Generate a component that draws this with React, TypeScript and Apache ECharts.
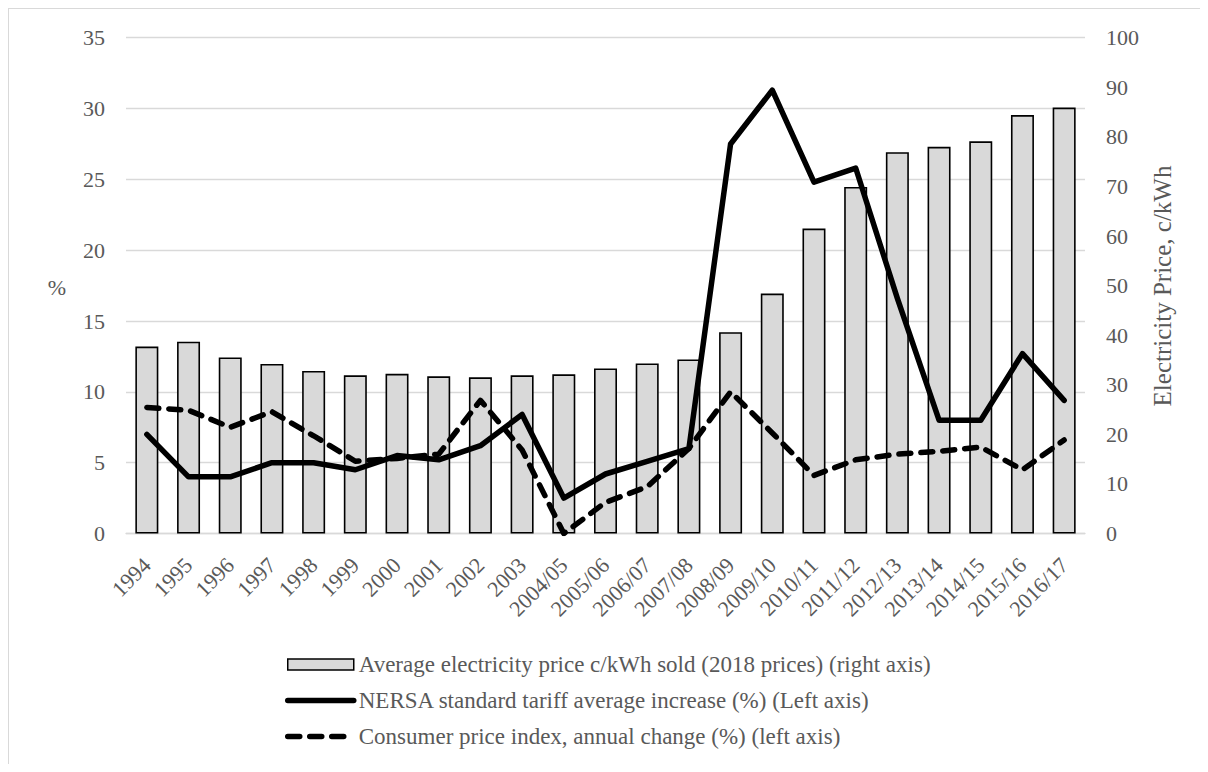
import React, { useEffect, useRef } from 'react';
import * as echarts from 'echarts';

const categories = [
  '1994', '1995', '1996', '1997', '1998', '1999', '2000', '2001', '2002', '2003',
  '2004/05', '2005/06', '2006/07', '2007/08', '2008/09', '2009/10', '2010/11',
  '2011/12', '2012/13', '2013/14', '2014/15', '2015/16', '2016/17',
];

// Average electricity price c/kWh sold (2018 prices) - right axis
const avgPrice = [
  37.7, 38.7, 35.5, 34.2, 32.8, 31.9, 32.2, 31.7, 31.5, 31.9,
  32.1, 33.3, 34.3, 35.1, 40.6, 48.4, 61.5, 69.9, 76.9, 78.0, 79.1, 84.4, 85.9,
];

// NERSA standard tariff average increase (%) - left axis
const nersaIncrease = [
  7.0, 4.0, 4.0, 5.0, 5.0, 4.5, 5.5, 5.2, 6.2, 8.4,
  2.5, 4.2, 5.1, 6.0, 27.5, 31.3, 24.8, 25.8, 16.6, 8.0, 8.0, 12.7, 9.4,
];

// Consumer price index, annual change (%) - left axis
const cpiChange = [
  8.9, 8.7, 7.5, 8.6, 6.9, 5.1, 5.3, 5.6, 9.4, 5.9,
  0.0, 2.2, 3.3, 6.0, 10.0, 7.1, 4.1, 5.2, 5.6, 5.8, 6.1, 4.5, 6.6,
];

const leftAxis = { min: 0, max: 35, interval: 5 };
const rightAxis = { min: 0, max: 100, interval: 10 };

const barName = 'Average electricity price c/kWh sold (2018 prices) (right axis)';
const nersaName = 'NERSA standard tariff average increase (%) (Left axis)';
const cpiName = 'Consumer price index, annual change (%) (left axis)';
const leftTitle = '%';
const rightTitle = 'Electricity Price, c/kWh';

export default function App() {
  const ref = useRef<HTMLDivElement>(null);

  useEffect(() => {
    if (!ref.current) return;
    const chart = echarts.init(ref.current, null, { renderer: 'svg' });
    const font = '"Liberation Serif", "Times New Roman", serif';
    const grey = '#595959';
    const gridGrey = '#d9d9d9';
    const lineW = 5.5;
    const dash = [12, 10];
    const hiddenSymbol = { color: 'rgba(0,0,0,0)', borderWidth: 0, opacity: 0 };

    chart.setOption({
      animation: false,
      backgroundColor: '#ffffff',
      textStyle: { fontFamily: font },
      grid: { left: 117, right: 123, top: 28.7, bottom: 230.5, containLabel: false },
      xAxis: {
        type: 'category',
        data: categories,
        axisLine: { lineStyle: { color: gridGrey, width: 1.3 } },
        axisTick: { show: false },
        axisLabel: {
          rotate: 45,
          interval: 0,
          margin: 28,
          fontSize: 22,
          color: grey,
          fontFamily: font,
        },
      },
      yAxis: [
        {
          type: 'value',
          position: 'left',
          ...leftAxis,
          axisLine: { show: false },
          axisTick: { show: false },
          splitLine: { lineStyle: { color: gridGrey, width: 1.3 } },
          axisLabel: { margin: 21, fontSize: 22, color: grey, fontFamily: font },
        },
        {
          type: 'value',
          position: 'right',
          ...rightAxis,
          axisLine: { show: false },
          axisTick: { show: false },
          splitLine: { show: false },
          axisLabel: { margin: 21, fontSize: 22, color: grey, fontFamily: font },
        },
      ],
      legend: {
        orient: 'vertical',
        left: 271,
        top: 639,
        itemWidth: 66,
        itemHeight: 11,
        itemGap: 13,
        textStyle: { fontSize: 23, color: grey, fontFamily: font },
        data: [
          {
            name: barName,
            icon: 'rect',
            itemStyle: { color: '#d9d9d9', borderColor: '#000000', borderWidth: 1.5 },
          },
          {
            name: nersaName,
            itemStyle: hiddenSymbol,
            lineStyle: { color: '#000000', width: lineW, cap: 'round' },
          },
          {
            name: cpiName,
            itemStyle: hiddenSymbol,
            lineStyle: { color: '#000000', width: lineW, type: dash, cap: 'round' },
          },
        ],
      },
      graphic: [
        {
          type: 'text',
          x: 48,
          y: 278,
          style: {
            text: leftTitle,
            fontSize: 22,
            fontFamily: font,
            fill: grey,
            textAlign: 'center',
            textVerticalAlign: 'middle',
          },
        },
        {
          type: 'text',
          x: 1153,
          y: 277,
          rotation: Math.PI / 2,
          style: {
            text: rightTitle,
            fontSize: 25,
            fontFamily: font,
            fill: grey,
            textAlign: 'center',
            textVerticalAlign: 'middle',
          },
        },
      ],
      series: [
        {
          name: barName,
          type: 'bar',
          yAxisIndex: 1,
          data: avgPrice,
          barWidth: 23,
          itemStyle: { color: '#d9d9d9', borderColor: '#000000', borderWidth: 1.6 },
        },
        {
          name: nersaName,
          type: 'line',
          yAxisIndex: 0,
          data: nersaIncrease,
          symbol: 'none',
          itemStyle: { color: '#000000' },
          lineStyle: { color: '#000000', width: lineW, join: 'round', cap: 'round' },
        },
        {
          name: cpiName,
          type: 'line',
          yAxisIndex: 0,
          data: cpiChange,
          symbol: 'none',
          itemStyle: { color: '#000000' },
          lineStyle: { color: '#000000', width: lineW, type: dash, cap: 'round', join: 'round' },
        },
      ],
    });

    return () => {
      chart.dispose();
    };
  }, []);

  return (
    <div
      ref={ref}
      style={{
        width: 1199,
        height: 755,
        borderTop: '1px solid #d9d9d9',
        borderLeft: '1px solid #d9d9d9',
      }}
    />
  );
}
